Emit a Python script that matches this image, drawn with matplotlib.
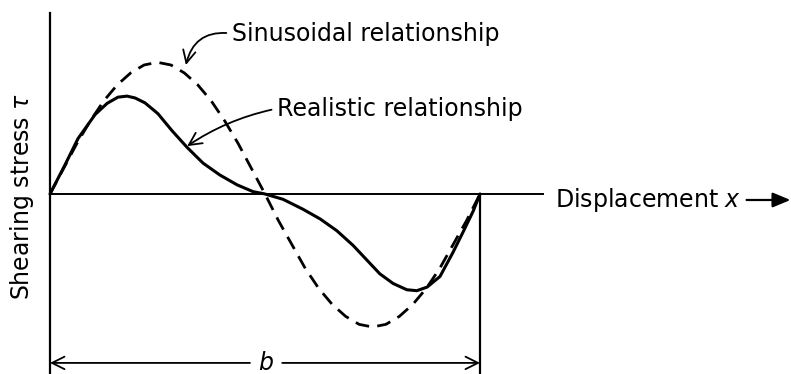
import numpy as np
import matplotlib
matplotlib.use("Agg")
import matplotlib.pyplot as plt

plt.rcParams['font.family'] = ['DejaVu Sans']
plt.rcParams['mathtext.fontset'] = 'dejavusans'

# displacement as fraction of b, stress relative to sinusoid amplitude
x_sin = [0, .03125, .0625, .09375, .125, .15625, .1875, .21875, .25, .28125,
         .3125, .34375, .375, .40625, .4375, .46875, .5, .53125, .5625, .59375,
         .625, .65625, .6875, .71875, .75, .78125, .8125, .84375, .875, .90625,
         .9375, .96875, 1]
tau_sin = [0, .19, .38, .55, .70, .82, .91, .97, .99, .97, .91, .82, .70, .55,
           .38, .19, 0, -.20, -.38, -.56, -.71, -.83, -.92, -.98, -1.0, -.98,
           -.92, -.83, -.71, -.56, -.38, -.20, 0]

x_real = [0, .035, .065, .105, .133, .158, .179, .198, .221, .251, .284, .319,
          .356, .395, .435, .472, .5, .542, .588, .628, .667, .705, .744, .767,
          .798, .830, .853, .877, .907, .937, .960, .984, 1]
tau_real = [0, .220, .416, .598, .682, .728, .736, .722, .685, .604, .475, .350,
            .232, .143, .069, .018, 0, -.040, -.114, -.187, -.276, -.387, -.521,
            -.600, -.673, -.720, -.727, -.700, -.620, -.440, -.290, -.130, 0]

W, H = 791, 374
x0px, bpx = 50, 430      # origin and length b in pixels
y0px, apx = 194, 133     # zero line and unit stress in pixels

fig = plt.figure(figsize=(W / 100, H / 100), dpi=100)
ax = fig.add_axes([0, 0, 1, 1])
ax.set_xlim(-x0px / bpx, (W - x0px) / bpx)
ax.set_ylim(-(H - y0px) / apx, y0px / apx)
ax.axis('off')

ymin, ymax = ax.get_ylim()
k = 'black'

# axes
ax.plot([0, 0], [ymin, 1.36], color=k, lw=1.6)
ax.plot([0, 1.147], [0, 0], color=k, lw=1.4)
ax.plot([1, 1], [0, ymin], color=k, lw=1.6)

# curves
ax.plot(x_sin, tau_sin, color=k, lw=2.0, linestyle=(0, (5, 3)))
ax.plot(x_real, tau_real, color=k, lw=2.2, solid_joinstyle='round',
        solid_capstyle='round')

fs = 17
arrow = dict(arrowstyle='->,head_length=0.5,head_width=0.25', color=k, lw=1.3,
             shrinkA=2, shrinkB=0, mutation_scale=18, relpos=(0, 0.5))

ax.annotate('Sinusoidal relationship', xy=(.316, .97), xytext=(.423, 1.154),
            fontsize=fs, va='baseline', ha='left',
            arrowprops=dict(arrow, connectionstyle='arc3,rad=0.45'))
ax.annotate('Realistic relationship', xy=(.319, .36), xytext=(.528, .59),
            fontsize=fs, va='baseline', ha='left',
            arrowprops=dict(arrow, connectionstyle='arc3,rad=0.1'))

ax.text(1.174, -.094, 'Displacement $x$', fontsize=fs, va='baseline', ha='left')
ax.annotate('', xy=(1.722, -.045), xytext=(1.62, -.045),
            arrowprops=dict(arrowstyle='-|>,head_length=0.6,head_width=0.25',
                            color=k, lw=1.6, mutation_scale=18,
                            shrinkA=0, shrinkB=0))

ax.text(-.065, -.02, r'Shearing stress $\tau$', fontsize=fs, rotation=90,
        va='center', ha='center')

# dimension b
yd = -1.27
dim = dict(arrow, shrinkA=0, relpos=(0.5, 0.5))
ax.annotate('', xy=(0, yd), xytext=(.465, yd), arrowprops=dim)
ax.annotate('', xy=(1, yd), xytext=(.54, yd), arrowprops=dim)
ax.text(.502, yd, '$b$', fontsize=fs, va='center', ha='center')

fig.savefig('out.png', dpi=100)
